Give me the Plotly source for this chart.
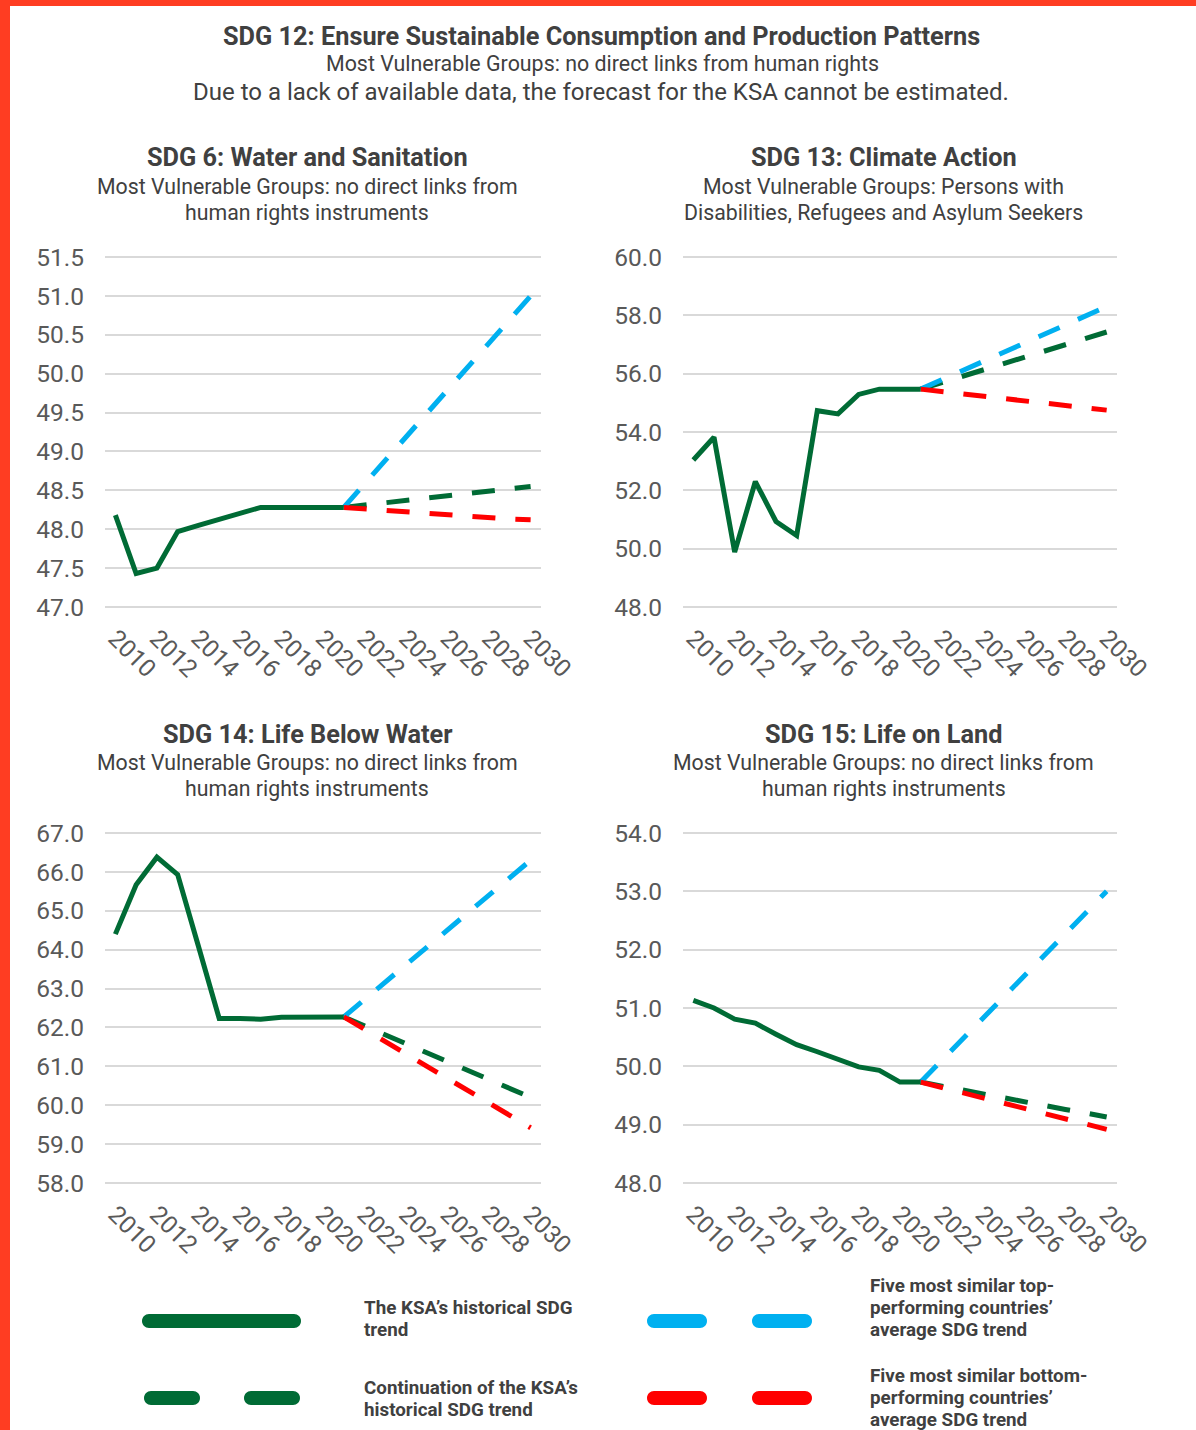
import plotly.graph_objects as go

W, H = 1196, 1430

# ---------------- data ----------------
hist_years = list(range(2010, 2022))
proj_years = list(range(2021, 2031))
tick_years = list(range(2010, 2031, 2))

sdg6_hist = [48.18, 47.43, 47.50, 47.97, 48.05, 48.13, 48.21, 48.28, 48.28, 48.28, 48.28, 48.28]
sdg6_cont = [48.28, 48.31, 48.34, 48.37, 48.40, 48.43, 48.46, 48.49, 48.52, 48.55]
sdg6_top = [48.28, 48.58, 48.88, 49.19, 49.49, 49.79, 50.09, 50.40, 50.70, 51.00]
sdg6_bot = [48.28, 48.26, 48.24, 48.22, 48.20, 48.19, 48.17, 48.15, 48.13, 48.12]

sdg13_hist = [53.04, 53.82, 49.88, 52.30, 50.93, 50.45, 54.73, 54.62, 55.29, 55.47, 55.47, 55.47]
sdg13_cont = [55.47, 55.69, 55.91, 56.12, 56.34, 56.56, 56.78, 57.00, 57.21, 57.43]
sdg13_top = [55.47, 55.78, 56.10, 56.41, 56.73, 57.04, 57.36, 57.67, 57.99, 58.30]
sdg13_bot = [55.47, 55.39, 55.31, 55.23, 55.15, 55.07, 54.99, 54.91, 54.83, 54.75]

sdg14_hist = [64.40, 65.67, 66.38, 65.93, 64.09, 62.23, 62.23, 62.21, 62.26, 62.26, 62.27, 62.27]
sdg14_cont = [62.27, 62.04, 61.81, 61.58, 61.35, 61.12, 60.89, 60.66, 60.43, 60.20]
sdg14_top = [62.27, 62.72, 63.17, 63.61, 64.06, 64.51, 64.96, 65.41, 65.85, 66.30]
sdg14_bot = [62.27, 61.95, 61.64, 61.32, 61.00, 60.69, 60.37, 60.05, 59.74, 59.42]

sdg15_hist = [51.13, 51.00, 50.81, 50.74, 50.55, 50.37, 50.25, 50.11, 49.99, 49.93, 49.73, 49.73]
sdg15_cont = [49.73, 49.66, 49.60, 49.53, 49.46, 49.40, 49.33, 49.26, 49.20, 49.13]
sdg15_top = [49.73, 50.09, 50.46, 50.82, 51.18, 51.55, 51.91, 52.27, 52.64, 53.00]
sdg15_bot = [49.73, 49.64, 49.55, 49.46, 49.37, 49.28, 49.19, 49.10, 49.01, 48.92]

panel_titles = ["SDG 6: Water and Sanitation", "SDG 13: Climate Action",
                "SDG 14: Life Below Water", "SDG 15: Life on Land"]
panel_sub1 = ["Most Vulnerable Groups: no direct links from",
              "Most Vulnerable Groups: Persons with",
              "Most Vulnerable Groups: no direct links from",
              "Most Vulnerable Groups: no direct links from"]
panel_sub2 = ["human rights instruments",
              "Disabilities, Refugees and Asylum Seekers",
              "human rights instruments",
              "human rights instruments"]
y_ranges = [(47.0, 51.5, 0.5), (48.0, 60.0, 2.0), (58.0, 67.0, 1.0), (48.0, 54.0, 1.0)]

main_title = "SDG 12: Ensure Sustainable Consumption and Production Patterns"
main_sub1 = "Most Vulnerable Groups: no direct links from human rights"
main_sub2 = "Due to a lack of available data, the forecast for the KSA cannot be estimated."

legend_labels = [
    ["The KSA’s historical SDG", "trend"],
    ["Continuation of the KSA’s", "historical SDG trend"],
    ["Five most similar top-", "performing countries’", "average SDG trend"],
    ["Five most similar bottom-", "performing countries’", "average SDG trend"],
]

GREEN = "#006B35"
BLUE = "#00B0F0"
RED = "#FF0000"
TXT = "#404040"
TICK = "#595959"
GRID = "#D9D9D9"
BORDER = "#FF3D22"
FONT = "Roboto"
DASH = "23px,20px"
LW = 5

panels = [
    (sdg6_hist, sdg6_cont, sdg6_top, sdg6_bot),
    (sdg13_hist, sdg13_cont, sdg13_top, sdg13_bot),
    (sdg14_hist, sdg14_cont, sdg14_top, sdg14_bot),
    (sdg15_hist, sdg15_cont, sdg15_top, sdg15_bot),
]

# ---------------- layout geometry (pixels) ----------------
col_x = [(105, 541), (683, 1117)]
row_y = [(257, 607), (833, 1183)]


def px(x):
    return x / W


def py(y):
    return 1 - y / H


fig = go.Figure()

for i, (hist, cont, top, bot) in enumerate(panels):
    n = i + 1
    xa = "x" if n == 1 else f"x{n}"
    ya = "y" if n == 1 else f"y{n}"
    fig.add_trace(go.Scatter(x=proj_years, y=cont, mode="lines", xaxis=xa, yaxis=ya,
                             line=dict(color=GREEN, width=LW, dash=DASH), showlegend=False,
                             hoverinfo="skip"))
    fig.add_trace(go.Scatter(x=proj_years, y=top, mode="lines", xaxis=xa, yaxis=ya,
                             line=dict(color=BLUE, width=LW, dash=DASH), showlegend=False,
                             hoverinfo="skip"))
    fig.add_trace(go.Scatter(x=proj_years, y=bot, mode="lines", xaxis=xa, yaxis=ya,
                             line=dict(color=RED, width=LW, dash=DASH), showlegend=False,
                             hoverinfo="skip"))
    fig.add_trace(go.Scatter(x=hist_years, y=hist, mode="lines", xaxis=xa, yaxis=ya,
                             line=dict(color=GREEN, width=LW), showlegend=False,
                             hoverinfo="skip"))

    c = i % 2
    r = i // 2
    x0, x1 = col_x[c]
    y0, y1 = row_y[r]
    lo, hi, step = y_ranges[i]
    eps = (hi - lo) * 0.003
    xkey = "xaxis" if n == 1 else f"xaxis{n}"
    ykey = "yaxis" if n == 1 else f"yaxis{n}"
    fig.layout[xkey] = dict(
        domain=[px(x0), px(x1)], anchor=ya, range=[2009.5, 2030.5],
        tickmode="array", tickvals=tick_years, ticktext=[str(t) for t in tick_years],
        tickangle=45, showgrid=False, zeroline=False, showline=False, ticks="",
        ticklabelstandoff=10, automargin=False,
        tickfont=dict(family=FONT, size=24.5, color=TICK), fixedrange=True,
    )
    fig.layout[ykey] = dict(
        domain=[py(y1 + 1), py(y0 - 1)], anchor=xa, range=[lo - eps, hi + eps], tick0=lo,
        dtick=step, tickformat=".1f", showgrid=True, gridcolor=GRID, gridwidth=1.5,
        zeroline=False, showline=False, ticks="", ticklabelstandoff=20, automargin=False,
        tickfont=dict(family=FONT, size=24.5, color=TICK), fixedrange=True,
    )

    cx = (x0 + x1) / 2 - 16
    ty = 157 if r == 0 else 734
    fig.add_annotation(text=f"<b>{panel_titles[i]}</b>", x=px(cx), y=py(ty), xref="paper",
                       yref="paper", showarrow=False, xanchor="center", yanchor="middle",
                       font=dict(family=FONT, size=25.3, color=TXT))
    fig.add_annotation(text=panel_sub1[i], x=px(cx), y=py(ty + 29), xref="paper",
                       yref="paper", showarrow=False, xanchor="center", yanchor="middle",
                       font=dict(family=FONT, size=21.3, color=TXT))
    fig.add_annotation(text=panel_sub2[i], x=px(cx), y=py(ty + 55), xref="paper",
                       yref="paper", showarrow=False, xanchor="center", yanchor="middle",
                       font=dict(family=FONT, size=21.3, color=TXT))

# main titles
fig.add_annotation(text=f"<b>{main_title}</b>", x=px(601), y=py(37), xref="paper", yref="paper",
                   showarrow=False, xanchor="center", yanchor="middle",
                   font=dict(family=FONT, size=25.3, color=TXT))
fig.add_annotation(text=main_sub1, x=px(602), y=py(64), xref="paper", yref="paper",
                   showarrow=False, xanchor="center", yanchor="middle",
                   font=dict(family=FONT, size=21.4, color=TXT))
fig.add_annotation(text=main_sub2, x=px(601), y=py(92), xref="paper", yref="paper",
                   showarrow=False, xanchor="center", yanchor="middle",
                   font=dict(family=FONT, size=24.0, color=TXT))


# ---------------- legend (drawn) ----------------
def pill(xa_, xb_, cy, color, h=14):
    r = h / 2
    k = 0.5523 * r
    pts = [
        ("M", [(xa_ + r, cy - r)]),
        ("L", [(xb_ - r, cy - r)]),
        ("C", [(xb_ - r + k, cy - r), (xb_, cy - k), (xb_, cy)]),
        ("C", [(xb_, cy + k), (xb_ - r + k, cy + r), (xb_ - r, cy + r)]),
        ("L", [(xa_ + r, cy + r)]),
        ("C", [(xa_ + r - k, cy + r), (xa_, cy + k), (xa_, cy)]),
        ("C", [(xa_, cy - k), (xa_ + r - k, cy - r), (xa_ + r, cy - r)]),
    ]
    path = ""
    for cmd, ps in pts:
        path += cmd + " " + " ".join(f"{px(a):.6f},{py(b):.6f}" for a, b in ps) + " "
    path += "Z"
    fig.add_shape(type="path", path=path, xref="paper", yref="paper",
                  fillcolor=color, line=dict(width=0), layer="above")


pill(142, 301, 1321, GREEN)
pill(144, 200, 1398, GREEN)
pill(244, 300, 1398, GREEN)
pill(647, 707, 1321, BLUE)
pill(752, 812, 1321, BLUE)
pill(647, 707, 1398, RED)
pill(752, 812, 1398, RED)

legend_pos = [(362, 1308), (362, 1388), (868, 1286), (868, 1376)]
for (lx, ly), lines in zip(legend_pos, legend_labels):
    for j, line in enumerate(lines):
        fig.add_annotation(text=f"<b>{line}</b>", x=px(lx), y=py(ly + 22 * j), xref="paper",
                           yref="paper", showarrow=False, xanchor="left", yanchor="middle",
                           font=dict(family=FONT, size=18.8, color=TXT))

# ---------------- border ----------------
fig.add_shape(type="rect", x0=0, x1=px(10), y0=0, y1=1, xref="paper", yref="paper",
              fillcolor=BORDER, line=dict(width=0), layer="above")
fig.add_shape(type="rect", x0=0, x1=1, y0=py(6), y1=1, xref="paper", yref="paper",
              fillcolor=BORDER, line=dict(width=0), layer="above")

fig.update_layout(
    width=W, height=H, autosize=False,
    margin=dict(l=0, r=0, t=0, b=0, pad=0, autoexpand=False),
    paper_bgcolor="white", plot_bgcolor="white",
    showlegend=False,
    font=dict(family=FONT, color=TXT),
)

fig.write_html("out.html", config={"displayModeBar": False},
               post_script="document.body.style.margin='0';")
